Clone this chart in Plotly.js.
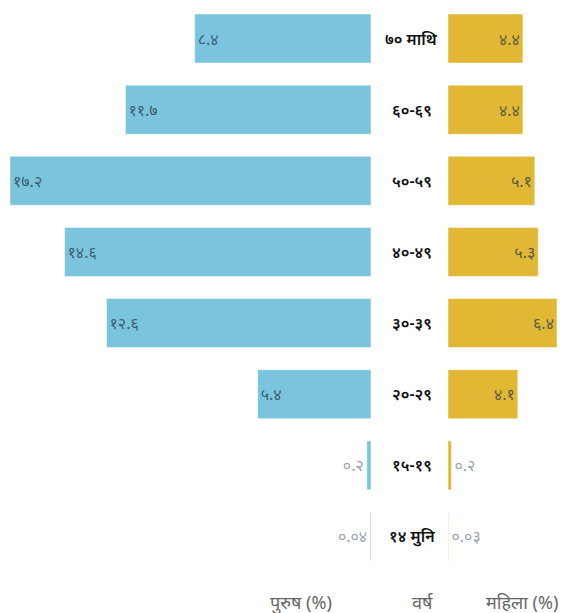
<!DOCTYPE html>
<html>
<head>
<meta charset="utf-8">
<script src="https://cdn.plot.ly/plotly-3.0.1.min.js"></script>
<style>html,body{margin:0;padding:0;background:#fff}#chart{width:563px;height:613px}</style>
</head>
<body>
<div id="chart"></div>
<script>
// Data
const ageGroups = ["७० माथि", "६०-६९", "५०-५९", "४०-४९", "३०-३९", "२०-२९", "१५-१९", "१४ मुनि"];
const maleValues = [8.4, 11.7, 17.2, 14.6, 12.6, 5.4, 0.2, 0.04];
const femaleValues = [4.4, 4.4, 5.1, 5.3, 6.4, 4.1, 0.2, 0.03];
const maleLabels = ["8.4", "11.7", "17.2", "14.6", "12.6", "5.4", "0.2", "0.04"];
const femaleLabels = ["4.4", "4.4", "5.1", "5.3", "6.4", "4.1", "0.2", "0.03"];
const axisLabels = {male: "पुरुष (%)", age: "वर्ष", female: "महिला (%)"};

const devDigits = "०१२३४५६७८९";
const toDev = s => s.replace(/[0-9]/g, d => devDigits[+d]);

const W = 563, H = 613;
const maleEnd = 371, femaleStart = 448;
const maleScale = 20.99, femaleScale = 17.03;
const mTop = 3, mBottom = 41;

const valFont = {family: "Noto Sans, DejaVu Sans, sans-serif", size: 16, color: "rgba(40,55,75,0.75)"};
const outFont = {family: "Noto Sans, DejaVu Sans, sans-serif", size: 16, color: "rgba(60,80,100,0.55)"};

const traces = [
  {
    type: "bar", orientation: "h",
    y: ageGroups, x: maleValues,
    text: maleLabels.map(toDev), textposition: "auto",
    insidetextanchor: "end",
    insidetextfont: valFont, outsidetextfont: outFont,
    constraintext: "none", cliponaxis: false,
    marker: {color: "#7ac5dd", line: {color: "rgba(255,255,255,0.5)", width: 1}},
    xaxis: "x", yaxis: "y", hoverinfo: "none"
  },
  {
    type: "bar", orientation: "h",
    y: ageGroups, x: femaleValues,
    text: femaleLabels.map(toDev), textposition: "auto",
    insidetextanchor: "end",
    insidetextfont: valFont, outsidetextfont: outFont,
    constraintext: "none", cliponaxis: false,
    marker: {color: "#e0b833", line: {color: "rgba(255,255,255,0.5)", width: 1}},
    xaxis: "x2", yaxis: "y2", hoverinfo: "none"
  }
];

const plotH = H - mTop - mBottom;
const annotations = ageGroups.map(g => ({
  x: (maleEnd + femaleStart) / 2 / W + 0.004, xref: "paper",
  y: g, yref: "y", showarrow: false,
  text: g, xanchor: "center", yanchor: "middle",
  font: {family: "Noto Sans, DejaVu Sans, sans-serif", size: 16, color: "#111", weight: 600}
}));
const by = -(602 - (H - mBottom)) / plotH;
const lblFont = {family: "Noto Sans, DejaVu Sans, sans-serif", size: 18, color: "#666"};
annotations.push(
  {x: 301 / W, y: by, xref: "paper", yref: "paper", text: axisLabels.male, showarrow: false,
   xanchor: "center", yanchor: "middle", font: lblFont},
  {x: 422 / W, y: by, xref: "paper", yref: "paper", text: axisLabels.age, showarrow: false,
   xanchor: "center", yanchor: "middle", font: lblFont},
  {x: 521.5 / W, y: by, xref: "paper", yref: "paper", text: axisLabels.female, showarrow: false,
   xanchor: "center", yanchor: "middle", font: lblFont}
);

const hidden = {showgrid: false, zeroline: false, showline: false, showticklabels: false, ticks: "", fixedrange: true};

const layout = {
  width: W, height: H,
  margin: {l: 0, r: 0, t: mTop, b: mBottom},
  paper_bgcolor: "#fff", plot_bgcolor: "#fff",
  showlegend: false,
  bargap: 0.31,
  xaxis: Object.assign({}, hidden, {domain: [0, maleEnd / W], range: [maleEnd / maleScale, 0]}),
  xaxis2: Object.assign({}, hidden, {domain: [femaleStart / W, 1], range: [0, (W - femaleStart) / femaleScale], anchor: "y2"}),
  yaxis: Object.assign({}, hidden, {autorange: "reversed", type: "category"}),
  yaxis2: Object.assign({}, hidden, {autorange: "reversed", type: "category", anchor: "x2", matches: "y"}),
  annotations: annotations
};

Plotly.newPlot("chart", traces, layout, {displayModeBar: false, staticPlot: true});
</script>
</body>
</html>
